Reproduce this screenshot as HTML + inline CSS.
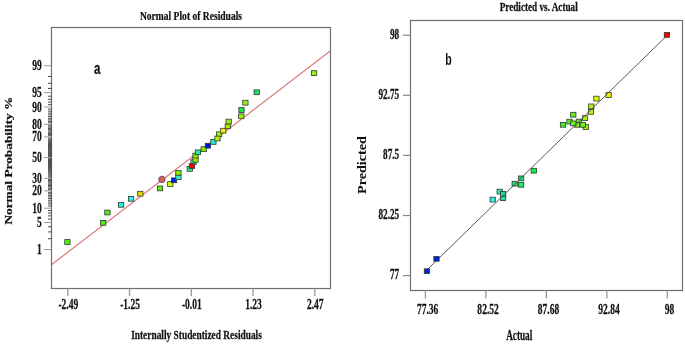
<!DOCTYPE html>
<html><head><meta charset="utf-8"><style>
html,body{margin:0;padding:0;background:#fff;}
svg{display:block;will-change:transform;filter:blur(0.3px);}
</style></head><body>
<svg width="685" height="353" viewBox="0 0 685 353">
<rect width="685" height="353" fill="#fff"/>
<line x1="51.5" y1="264.7" x2="330.5" y2="50.8" stroke="#dd7878" stroke-width="1.2"/>
<rect x="51.5" y="27.5" width="279.0" height="261.0" fill="none" stroke="#6e6e6e" stroke-width="1.2"/>
<line x1="48" y1="238.72" x2="51.5" y2="238.72" stroke="#2a2a2a" stroke-width="0.85"/>
<line x1="48" y1="231.89" x2="51.5" y2="231.89" stroke="#2a2a2a" stroke-width="0.85"/>
<line x1="48" y1="226.75" x2="51.5" y2="226.75" stroke="#2a2a2a" stroke-width="0.85"/>
<line x1="48" y1="219.01" x2="51.5" y2="219.01" stroke="#2a2a2a" stroke-width="0.85"/>
<line x1="48" y1="215.89" x2="51.5" y2="215.89" stroke="#2a2a2a" stroke-width="0.85"/>
<line x1="48" y1="213.10" x2="51.5" y2="213.10" stroke="#2a2a2a" stroke-width="0.85"/>
<line x1="48" y1="210.56" x2="51.5" y2="210.56" stroke="#2a2a2a" stroke-width="0.85"/>
<line x1="48" y1="206.05" x2="51.5" y2="206.05" stroke="#2a2a2a" stroke-width="0.85"/>
<line x1="48" y1="204.01" x2="51.5" y2="204.01" stroke="#2a2a2a" stroke-width="0.85"/>
<line x1="48" y1="202.09" x2="51.5" y2="202.09" stroke="#2a2a2a" stroke-width="0.85"/>
<line x1="48" y1="200.27" x2="51.5" y2="200.27" stroke="#2a2a2a" stroke-width="0.85"/>
<line x1="48" y1="198.54" x2="51.5" y2="198.54" stroke="#2a2a2a" stroke-width="0.85"/>
<line x1="48" y1="196.88" x2="51.5" y2="196.88" stroke="#2a2a2a" stroke-width="0.85"/>
<line x1="48" y1="195.29" x2="51.5" y2="195.29" stroke="#2a2a2a" stroke-width="0.85"/>
<line x1="48" y1="193.76" x2="51.5" y2="193.76" stroke="#2a2a2a" stroke-width="0.85"/>
<line x1="48" y1="192.28" x2="51.5" y2="192.28" stroke="#2a2a2a" stroke-width="0.85"/>
<line x1="48" y1="189.45" x2="51.5" y2="189.45" stroke="#2a2a2a" stroke-width="0.85"/>
<line x1="48" y1="188.10" x2="51.5" y2="188.10" stroke="#2a2a2a" stroke-width="0.85"/>
<line x1="48" y1="186.78" x2="51.5" y2="186.78" stroke="#2a2a2a" stroke-width="0.85"/>
<line x1="48" y1="185.50" x2="51.5" y2="185.50" stroke="#2a2a2a" stroke-width="0.85"/>
<line x1="48" y1="184.24" x2="51.5" y2="184.24" stroke="#2a2a2a" stroke-width="0.85"/>
<line x1="48" y1="183.01" x2="51.5" y2="183.01" stroke="#2a2a2a" stroke-width="0.85"/>
<line x1="48" y1="181.81" x2="51.5" y2="181.81" stroke="#2a2a2a" stroke-width="0.85"/>
<line x1="48" y1="180.62" x2="51.5" y2="180.62" stroke="#2a2a2a" stroke-width="0.85"/>
<line x1="48" y1="179.46" x2="51.5" y2="179.46" stroke="#2a2a2a" stroke-width="0.85"/>
<line x1="48" y1="177.19" x2="51.5" y2="177.19" stroke="#2a2a2a" stroke-width="0.85"/>
<line x1="48" y1="176.07" x2="51.5" y2="176.07" stroke="#2a2a2a" stroke-width="0.85"/>
<line x1="48" y1="174.98" x2="51.5" y2="174.98" stroke="#2a2a2a" stroke-width="0.85"/>
<line x1="48" y1="173.89" x2="51.5" y2="173.89" stroke="#2a2a2a" stroke-width="0.85"/>
<line x1="48" y1="172.82" x2="51.5" y2="172.82" stroke="#2a2a2a" stroke-width="0.85"/>
<line x1="48" y1="171.76" x2="51.5" y2="171.76" stroke="#2a2a2a" stroke-width="0.85"/>
<line x1="48" y1="170.71" x2="51.5" y2="170.71" stroke="#2a2a2a" stroke-width="0.85"/>
<line x1="48" y1="169.67" x2="51.5" y2="169.67" stroke="#2a2a2a" stroke-width="0.85"/>
<line x1="48" y1="168.63" x2="51.5" y2="168.63" stroke="#2a2a2a" stroke-width="0.85"/>
<line x1="48" y1="167.61" x2="51.5" y2="167.61" stroke="#2a2a2a" stroke-width="0.85"/>
<line x1="48" y1="166.59" x2="51.5" y2="166.59" stroke="#2a2a2a" stroke-width="0.85"/>
<line x1="48" y1="165.57" x2="51.5" y2="165.57" stroke="#2a2a2a" stroke-width="0.85"/>
<line x1="48" y1="164.57" x2="51.5" y2="164.57" stroke="#2a2a2a" stroke-width="0.85"/>
<line x1="48" y1="163.56" x2="51.5" y2="163.56" stroke="#2a2a2a" stroke-width="0.85"/>
<line x1="48" y1="162.56" x2="51.5" y2="162.56" stroke="#2a2a2a" stroke-width="0.85"/>
<line x1="48" y1="161.57" x2="51.5" y2="161.57" stroke="#2a2a2a" stroke-width="0.85"/>
<line x1="48" y1="160.57" x2="51.5" y2="160.57" stroke="#2a2a2a" stroke-width="0.85"/>
<line x1="48" y1="159.58" x2="51.5" y2="159.58" stroke="#2a2a2a" stroke-width="0.85"/>
<line x1="48" y1="158.59" x2="51.5" y2="158.59" stroke="#2a2a2a" stroke-width="0.85"/>
<line x1="48" y1="156.61" x2="51.5" y2="156.61" stroke="#2a2a2a" stroke-width="0.85"/>
<line x1="48" y1="155.62" x2="51.5" y2="155.62" stroke="#2a2a2a" stroke-width="0.85"/>
<line x1="48" y1="154.63" x2="51.5" y2="154.63" stroke="#2a2a2a" stroke-width="0.85"/>
<line x1="48" y1="153.63" x2="51.5" y2="153.63" stroke="#2a2a2a" stroke-width="0.85"/>
<line x1="48" y1="152.64" x2="51.5" y2="152.64" stroke="#2a2a2a" stroke-width="0.85"/>
<line x1="48" y1="151.64" x2="51.5" y2="151.64" stroke="#2a2a2a" stroke-width="0.85"/>
<line x1="48" y1="150.63" x2="51.5" y2="150.63" stroke="#2a2a2a" stroke-width="0.85"/>
<line x1="48" y1="149.63" x2="51.5" y2="149.63" stroke="#2a2a2a" stroke-width="0.85"/>
<line x1="48" y1="148.61" x2="51.5" y2="148.61" stroke="#2a2a2a" stroke-width="0.85"/>
<line x1="48" y1="147.59" x2="51.5" y2="147.59" stroke="#2a2a2a" stroke-width="0.85"/>
<line x1="48" y1="146.57" x2="51.5" y2="146.57" stroke="#2a2a2a" stroke-width="0.85"/>
<line x1="48" y1="145.53" x2="51.5" y2="145.53" stroke="#2a2a2a" stroke-width="0.85"/>
<line x1="48" y1="144.49" x2="51.5" y2="144.49" stroke="#2a2a2a" stroke-width="0.85"/>
<line x1="48" y1="143.44" x2="51.5" y2="143.44" stroke="#2a2a2a" stroke-width="0.85"/>
<line x1="48" y1="142.38" x2="51.5" y2="142.38" stroke="#2a2a2a" stroke-width="0.85"/>
<line x1="48" y1="141.31" x2="51.5" y2="141.31" stroke="#2a2a2a" stroke-width="0.85"/>
<line x1="48" y1="140.22" x2="51.5" y2="140.22" stroke="#2a2a2a" stroke-width="0.85"/>
<line x1="48" y1="139.13" x2="51.5" y2="139.13" stroke="#2a2a2a" stroke-width="0.85"/>
<line x1="48" y1="138.01" x2="51.5" y2="138.01" stroke="#2a2a2a" stroke-width="0.85"/>
<line x1="48" y1="135.74" x2="51.5" y2="135.74" stroke="#2a2a2a" stroke-width="0.85"/>
<line x1="48" y1="134.58" x2="51.5" y2="134.58" stroke="#2a2a2a" stroke-width="0.85"/>
<line x1="48" y1="133.39" x2="51.5" y2="133.39" stroke="#2a2a2a" stroke-width="0.85"/>
<line x1="48" y1="132.19" x2="51.5" y2="132.19" stroke="#2a2a2a" stroke-width="0.85"/>
<line x1="48" y1="130.96" x2="51.5" y2="130.96" stroke="#2a2a2a" stroke-width="0.85"/>
<line x1="48" y1="129.70" x2="51.5" y2="129.70" stroke="#2a2a2a" stroke-width="0.85"/>
<line x1="48" y1="128.42" x2="51.5" y2="128.42" stroke="#2a2a2a" stroke-width="0.85"/>
<line x1="48" y1="127.10" x2="51.5" y2="127.10" stroke="#2a2a2a" stroke-width="0.85"/>
<line x1="48" y1="125.75" x2="51.5" y2="125.75" stroke="#2a2a2a" stroke-width="0.85"/>
<line x1="48" y1="122.92" x2="51.5" y2="122.92" stroke="#2a2a2a" stroke-width="0.85"/>
<line x1="48" y1="121.44" x2="51.5" y2="121.44" stroke="#2a2a2a" stroke-width="0.85"/>
<line x1="48" y1="119.91" x2="51.5" y2="119.91" stroke="#2a2a2a" stroke-width="0.85"/>
<line x1="48" y1="118.32" x2="51.5" y2="118.32" stroke="#2a2a2a" stroke-width="0.85"/>
<line x1="48" y1="116.66" x2="51.5" y2="116.66" stroke="#2a2a2a" stroke-width="0.85"/>
<line x1="48" y1="114.93" x2="51.5" y2="114.93" stroke="#2a2a2a" stroke-width="0.85"/>
<line x1="48" y1="113.11" x2="51.5" y2="113.11" stroke="#2a2a2a" stroke-width="0.85"/>
<line x1="48" y1="111.19" x2="51.5" y2="111.19" stroke="#2a2a2a" stroke-width="0.85"/>
<line x1="48" y1="109.15" x2="51.5" y2="109.15" stroke="#2a2a2a" stroke-width="0.85"/>
<line x1="48" y1="104.64" x2="51.5" y2="104.64" stroke="#2a2a2a" stroke-width="0.85"/>
<line x1="48" y1="102.10" x2="51.5" y2="102.10" stroke="#2a2a2a" stroke-width="0.85"/>
<line x1="48" y1="99.31" x2="51.5" y2="99.31" stroke="#2a2a2a" stroke-width="0.85"/>
<line x1="48" y1="96.19" x2="51.5" y2="96.19" stroke="#2a2a2a" stroke-width="0.85"/>
<line x1="48" y1="88.45" x2="51.5" y2="88.45" stroke="#2a2a2a" stroke-width="0.85"/>
<line x1="48" y1="83.31" x2="51.5" y2="83.31" stroke="#2a2a2a" stroke-width="0.85"/>
<line x1="48" y1="76.48" x2="51.5" y2="76.48" stroke="#2a2a2a" stroke-width="0.85"/>
<line x1="44" y1="249.49" x2="51.5" y2="249.49" stroke="#999" stroke-width="1"/>
<text transform="translate(41.80,254.09) scale(0.68,1)" text-anchor="end" font-family="Liberation Serif" font-weight="700" font-size="14" fill="#111" stroke="#111" stroke-width="0.25">1</text>
<line x1="44" y1="222.57" x2="51.5" y2="222.57" stroke="#999" stroke-width="1"/>
<text transform="translate(41.80,227.17) scale(0.68,1)" text-anchor="end" font-family="Liberation Serif" font-weight="700" font-size="14" fill="#111" stroke="#111" stroke-width="0.25">5</text>
<line x1="44" y1="208.22" x2="51.5" y2="208.22" stroke="#999" stroke-width="1"/>
<text transform="translate(41.80,212.82) scale(0.68,1)" text-anchor="end" font-family="Liberation Serif" font-weight="700" font-size="14" fill="#111" stroke="#111" stroke-width="0.25">10</text>
<line x1="44" y1="190.84" x2="51.5" y2="190.84" stroke="#999" stroke-width="1"/>
<text transform="translate(41.80,195.44) scale(0.68,1)" text-anchor="end" font-family="Liberation Serif" font-weight="700" font-size="14" fill="#111" stroke="#111" stroke-width="0.25">20</text>
<line x1="44" y1="178.31" x2="51.5" y2="178.31" stroke="#999" stroke-width="1"/>
<text transform="translate(41.80,182.91) scale(0.68,1)" text-anchor="end" font-family="Liberation Serif" font-weight="700" font-size="14" fill="#111" stroke="#111" stroke-width="0.25">30</text>
<line x1="44" y1="157.60" x2="51.5" y2="157.60" stroke="#999" stroke-width="1"/>
<text transform="translate(41.80,162.20) scale(0.68,1)" text-anchor="end" font-family="Liberation Serif" font-weight="700" font-size="14" fill="#111" stroke="#111" stroke-width="0.25">50</text>
<line x1="44" y1="136.89" x2="51.5" y2="136.89" stroke="#999" stroke-width="1"/>
<text transform="translate(41.80,141.49) scale(0.68,1)" text-anchor="end" font-family="Liberation Serif" font-weight="700" font-size="14" fill="#111" stroke="#111" stroke-width="0.25">70</text>
<line x1="44" y1="124.36" x2="51.5" y2="124.36" stroke="#999" stroke-width="1"/>
<text transform="translate(41.80,128.96) scale(0.68,1)" text-anchor="end" font-family="Liberation Serif" font-weight="700" font-size="14" fill="#111" stroke="#111" stroke-width="0.25">80</text>
<line x1="44" y1="106.98" x2="51.5" y2="106.98" stroke="#999" stroke-width="1"/>
<text transform="translate(41.80,111.58) scale(0.68,1)" text-anchor="end" font-family="Liberation Serif" font-weight="700" font-size="14" fill="#111" stroke="#111" stroke-width="0.25">90</text>
<line x1="44" y1="92.63" x2="51.5" y2="92.63" stroke="#999" stroke-width="1"/>
<text transform="translate(41.80,97.23) scale(0.68,1)" text-anchor="end" font-family="Liberation Serif" font-weight="700" font-size="14" fill="#111" stroke="#111" stroke-width="0.25">95</text>
<line x1="44" y1="65.71" x2="51.5" y2="65.71" stroke="#999" stroke-width="1"/>
<text transform="translate(41.80,70.31) scale(0.68,1)" text-anchor="end" font-family="Liberation Serif" font-weight="700" font-size="14" fill="#111" stroke="#111" stroke-width="0.25">99</text>
<line x1="67.80" y1="288.5" x2="67.80" y2="296" stroke="#9a9a9a" stroke-width="1.3"/>
<text transform="translate(68.30,308.60) scale(0.68,1)" text-anchor="middle" font-family="Liberation Serif" font-weight="700" font-size="14" fill="#111" stroke="#111" stroke-width="0.25">-2.49</text>
<line x1="129.55" y1="288.5" x2="129.55" y2="296" stroke="#9a9a9a" stroke-width="1.3"/>
<text transform="translate(130.05,308.60) scale(0.68,1)" text-anchor="middle" font-family="Liberation Serif" font-weight="700" font-size="14" fill="#111" stroke="#111" stroke-width="0.25">-1.25</text>
<line x1="191.30" y1="288.5" x2="191.30" y2="296" stroke="#9a9a9a" stroke-width="1.3"/>
<text transform="translate(191.80,308.60) scale(0.68,1)" text-anchor="middle" font-family="Liberation Serif" font-weight="700" font-size="14" fill="#111" stroke="#111" stroke-width="0.25">-0.01</text>
<line x1="253.05" y1="288.5" x2="253.05" y2="296" stroke="#9a9a9a" stroke-width="1.3"/>
<text transform="translate(253.55,308.60) scale(0.68,1)" text-anchor="middle" font-family="Liberation Serif" font-weight="700" font-size="14" fill="#111" stroke="#111" stroke-width="0.25">1.23</text>
<line x1="314.80" y1="288.5" x2="314.80" y2="296" stroke="#9a9a9a" stroke-width="1.3"/>
<text transform="translate(315.30,308.60) scale(0.68,1)" text-anchor="middle" font-family="Liberation Serif" font-weight="700" font-size="14" fill="#111" stroke="#111" stroke-width="0.25">2.47</text>
<text transform="translate(191.00,19.80) scale(0.765,1)" text-anchor="middle" font-family="Liberation Serif" font-weight="700" font-size="12.5" fill="#111" stroke="#111" stroke-width="0.25">Normal Plot of Residuals</text>
<text transform="translate(196.50,339.20) scale(0.717,1)" text-anchor="middle" font-family="Liberation Serif" font-weight="700" font-size="13.1" fill="#111" stroke="#111" stroke-width="0.25">Internally Studentized Residuals</text>
<text transform="translate(12.4,160.7) scale(0.82,1) rotate(-90)" text-anchor="middle" font-family="Liberation Serif" font-weight="700" font-size="13.35" fill="#111" stroke="#111" stroke-width="0.25">Normal Probability %</text>
<text transform="translate(97.20,74.10) scale(0.68,1)" text-anchor="middle" font-family="Liberation Sans" font-weight="700" font-size="17" fill="#111" stroke="#111" stroke-width="0.25">a</text>
<rect x="64.75" y="239.60" width="5.3" height="4.8" fill="#55f000" stroke="#2d3b2d" stroke-width="0.8"/>
<rect x="100.55" y="220.40" width="5.3" height="4.8" fill="#44ee11" stroke="#2d3b2d" stroke-width="0.8"/>
<rect x="104.75" y="210.10" width="5.3" height="4.8" fill="#5fe822" stroke="#2d3b2d" stroke-width="0.8"/>
<rect x="118.45" y="202.40" width="5.3" height="4.8" fill="#22eedd" stroke="#2d3b2d" stroke-width="0.8"/>
<rect x="128.45" y="196.40" width="5.3" height="4.8" fill="#33eeee" stroke="#2d3b2d" stroke-width="0.8"/>
<rect x="137.65" y="191.30" width="5.3" height="4.8" fill="#dddd00" stroke="#2d3b2d" stroke-width="0.8"/>
<rect x="157.35" y="186.00" width="5.3" height="4.8" fill="#66ee00" stroke="#2d3b2d" stroke-width="0.8"/>
<rect x="167.65" y="181.60" width="5.3" height="4.8" fill="#ccff00" stroke="#2d3b2d" stroke-width="0.8"/>
<rect x="171.35" y="177.90" width="5.3" height="4.8" fill="#0022ee" stroke="#2d3b2d" stroke-width="0.8"/>
<rect x="175.75" y="174.80" width="5.3" height="4.8" fill="#33eecc" stroke="#2d3b2d" stroke-width="0.8"/>
<rect x="175.75" y="170.40" width="5.3" height="4.8" fill="#88ee00" stroke="#2d3b2d" stroke-width="0.8"/>
<rect x="187.10" y="166.50" width="5.3" height="4.8" fill="#22ee99" stroke="#2d3b2d" stroke-width="0.8"/>
<rect x="190.95" y="159.70" width="5.3" height="4.8" fill="#22ee99" stroke="#2d3b2d" stroke-width="0.8"/>
<rect x="189.25" y="163.60" width="5.3" height="4.8" fill="#ee0000" stroke="#2d3b2d" stroke-width="0.8"/>
<rect x="192.85" y="157.30" width="5.3" height="4.8" fill="#99ee00" stroke="#2d3b2d" stroke-width="0.8"/>
<rect x="192.85" y="153.20" width="5.3" height="4.8" fill="#88ee00" stroke="#2d3b2d" stroke-width="0.8"/>
<rect x="195.25" y="149.90" width="5.3" height="4.8" fill="#22ee99" stroke="#2d3b2d" stroke-width="0.8"/>
<rect x="201.05" y="146.70" width="5.3" height="4.8" fill="#88ee00" stroke="#2d3b2d" stroke-width="0.8"/>
<rect x="205.25" y="143.30" width="5.3" height="4.8" fill="#0011ee" stroke="#2d3b2d" stroke-width="0.8"/>
<rect x="210.75" y="139.50" width="5.3" height="4.8" fill="#22eecc" stroke="#2d3b2d" stroke-width="0.8"/>
<rect x="216.45" y="131.90" width="5.3" height="4.8" fill="#aaee11" stroke="#2d3b2d" stroke-width="0.8"/>
<rect x="214.85" y="136.10" width="5.3" height="4.8" fill="#bbee00" stroke="#2d3b2d" stroke-width="0.8"/>
<rect x="220.65" y="128.30" width="5.3" height="4.8" fill="#eeee00" stroke="#2d3b2d" stroke-width="0.8"/>
<rect x="225.15" y="123.90" width="5.3" height="4.8" fill="#aaee00" stroke="#2d3b2d" stroke-width="0.8"/>
<rect x="226.05" y="119.20" width="5.3" height="4.8" fill="#99ee11" stroke="#2d3b2d" stroke-width="0.8"/>
<rect x="238.65" y="113.90" width="5.3" height="4.8" fill="#99ee11" stroke="#2d3b2d" stroke-width="0.8"/>
<rect x="238.85" y="107.60" width="5.3" height="4.8" fill="#22dd55" stroke="#2d3b2d" stroke-width="0.8"/>
<rect x="242.75" y="100.30" width="5.3" height="4.8" fill="#99ee11" stroke="#2d3b2d" stroke-width="0.8"/>
<rect x="254.05" y="89.90" width="5.3" height="4.8" fill="#22dd66" stroke="#2d3b2d" stroke-width="0.8"/>
<rect x="311.45" y="70.70" width="5.3" height="4.8" fill="#99f011" stroke="#2d3b2d" stroke-width="0.8"/>
<circle cx="161.9" cy="179.4" r="3.2" fill="#cc6464" stroke="#7a4545" stroke-width="0.9"/>
<rect x="410.5" y="20.5" width="272.0" height="270.0" fill="none" stroke="#6e6e6e" stroke-width="1.2"/>
<line x1="403" y1="35.20" x2="410.5" y2="35.20" stroke="#888" stroke-width="1.2"/>
<text transform="translate(399.20,38.70) scale(0.66,1)" text-anchor="end" font-family="Liberation Serif" font-weight="700" font-size="14" fill="#111" stroke="#111" stroke-width="0.25">98</text>
<line x1="403" y1="95.30" x2="410.5" y2="95.30" stroke="#888" stroke-width="1.2"/>
<text transform="translate(399.20,98.80) scale(0.66,1)" text-anchor="end" font-family="Liberation Serif" font-weight="700" font-size="14" fill="#111" stroke="#111" stroke-width="0.25">92.75</text>
<line x1="403" y1="155.40" x2="410.5" y2="155.40" stroke="#888" stroke-width="1.2"/>
<text transform="translate(399.20,158.90) scale(0.66,1)" text-anchor="end" font-family="Liberation Serif" font-weight="700" font-size="14" fill="#111" stroke="#111" stroke-width="0.25">87.5</text>
<line x1="403" y1="215.51" x2="410.5" y2="215.51" stroke="#888" stroke-width="1.2"/>
<text transform="translate(399.20,219.01) scale(0.66,1)" text-anchor="end" font-family="Liberation Serif" font-weight="700" font-size="14" fill="#111" stroke="#111" stroke-width="0.25">82.25</text>
<line x1="403" y1="275.61" x2="410.5" y2="275.61" stroke="#888" stroke-width="1.2"/>
<text transform="translate(399.20,279.11) scale(0.66,1)" text-anchor="end" font-family="Liberation Serif" font-weight="700" font-size="14" fill="#111" stroke="#111" stroke-width="0.25">77</text>
<line x1="425.40" y1="290.5" x2="425.40" y2="298.5" stroke="#9a9a9a" stroke-width="1.3"/>
<text transform="translate(427.60,313.90) scale(0.68,1)" text-anchor="middle" font-family="Liberation Serif" font-weight="700" font-size="14" fill="#111" stroke="#111" stroke-width="0.25">77.36</text>
<line x1="485.88" y1="290.5" x2="485.88" y2="298.5" stroke="#9a9a9a" stroke-width="1.3"/>
<text transform="translate(488.08,313.90) scale(0.68,1)" text-anchor="middle" font-family="Liberation Serif" font-weight="700" font-size="14" fill="#111" stroke="#111" stroke-width="0.25">82.52</text>
<line x1="546.35" y1="290.5" x2="546.35" y2="298.5" stroke="#9a9a9a" stroke-width="1.3"/>
<text transform="translate(548.55,313.90) scale(0.68,1)" text-anchor="middle" font-family="Liberation Serif" font-weight="700" font-size="14" fill="#111" stroke="#111" stroke-width="0.25">87.68</text>
<line x1="606.83" y1="290.5" x2="606.83" y2="298.5" stroke="#9a9a9a" stroke-width="1.3"/>
<text transform="translate(609.03,313.90) scale(0.68,1)" text-anchor="middle" font-family="Liberation Serif" font-weight="700" font-size="14" fill="#111" stroke="#111" stroke-width="0.25">92.84</text>
<line x1="667.30" y1="290.5" x2="667.30" y2="298.5" stroke="#9a9a9a" stroke-width="1.3"/>
<text transform="translate(669.50,313.90) scale(0.68,1)" text-anchor="middle" font-family="Liberation Serif" font-weight="700" font-size="14" fill="#111" stroke="#111" stroke-width="0.25">98</text>
<text transform="translate(538.70,10.50) scale(0.766,1)" text-anchor="middle" font-family="Liberation Serif" font-weight="700" font-size="12" fill="#111" stroke="#111" stroke-width="0.25">Predicted vs. Actual</text>
<text transform="translate(519.20,340.00) scale(0.68,1)" text-anchor="middle" font-family="Liberation Serif" font-weight="700" font-size="13.6" fill="#111" stroke="#111" stroke-width="0.25">Actual</text>
<text transform="translate(365.6,165.0) scale(0.81,1) rotate(-90)" text-anchor="middle" font-family="Liberation Serif" font-weight="700" font-size="14.2" fill="#111" stroke="#111" stroke-width="0.1">Predicted</text>
<text transform="translate(448.40,65.40) scale(0.64,1)" text-anchor="middle" font-family="Liberation Sans" font-weight="700" font-size="16.5" fill="#111" >b</text>
<rect x="490.05" y="197.20" width="5.3" height="4.8" fill="#33eedd" stroke="#2d3b2d" stroke-width="0.8"/>
<rect x="497.05" y="189.20" width="5.3" height="4.8" fill="#22eebb" stroke="#2d3b2d" stroke-width="0.8"/>
<rect x="500.45" y="195.70" width="5.3" height="4.8" fill="#22dd99" stroke="#2d3b2d" stroke-width="0.8"/>
<rect x="500.45" y="191.50" width="5.3" height="4.8" fill="#22dd99" stroke="#2d3b2d" stroke-width="0.8"/>
<rect x="512.05" y="181.30" width="5.3" height="4.8" fill="#22dd77" stroke="#2d3b2d" stroke-width="0.8"/>
<rect x="518.45" y="182.40" width="5.3" height="4.8" fill="#22ee66" stroke="#2d3b2d" stroke-width="0.8"/>
<rect x="518.45" y="176.00" width="5.3" height="4.8" fill="#22dd77" stroke="#2d3b2d" stroke-width="0.8"/>
<rect x="531.15" y="168.30" width="5.3" height="4.8" fill="#11ee44" stroke="#2d3b2d" stroke-width="0.8"/>
<rect x="560.35" y="122.40" width="5.3" height="4.8" fill="#44ee22" stroke="#2d3b2d" stroke-width="0.8"/>
<rect x="570.65" y="112.30" width="5.3" height="4.8" fill="#66ee22" stroke="#2d3b2d" stroke-width="0.8"/>
<rect x="566.85" y="119.20" width="5.3" height="4.8" fill="#55ee22" stroke="#2d3b2d" stroke-width="0.8"/>
<rect x="576.25" y="119.20" width="5.3" height="4.8" fill="#77ee22" stroke="#2d3b2d" stroke-width="0.8"/>
<rect x="574.35" y="122.40" width="5.3" height="4.8" fill="#88ee22" stroke="#2d3b2d" stroke-width="0.8"/>
<rect x="570.65" y="121.00" width="5.3" height="4.8" fill="#66ee22" stroke="#2d3b2d" stroke-width="0.8"/>
<rect x="583.15" y="124.60" width="5.3" height="4.8" fill="#99ee11" stroke="#2d3b2d" stroke-width="0.8"/>
<rect x="580.15" y="122.40" width="5.3" height="4.8" fill="#77ee22" stroke="#2d3b2d" stroke-width="0.8"/>
<rect x="582.35" y="115.70" width="5.3" height="4.8" fill="#aaee11" stroke="#2d3b2d" stroke-width="0.8"/>
<rect x="588.65" y="104.00" width="5.3" height="4.8" fill="#bbee11" stroke="#2d3b2d" stroke-width="0.8"/>
<rect x="588.25" y="109.50" width="5.3" height="4.8" fill="#bbee11" stroke="#2d3b2d" stroke-width="0.8"/>
<rect x="593.75" y="96.20" width="5.3" height="4.8" fill="#ddff00" stroke="#2d3b2d" stroke-width="0.8"/>
<rect x="605.95" y="92.60" width="5.3" height="4.8" fill="#eeee00" stroke="#2d3b2d" stroke-width="0.8"/>
<line x1="425.40" y1="271.49" x2="667.30" y2="35.20" stroke="#505050" stroke-width="0.95"/>
<rect x="424.25" y="268.80" width="5.3" height="4.8" fill="#0022dd" stroke="#2d3b2d" stroke-width="0.8"/>
<rect x="433.85" y="256.40" width="5.3" height="4.8" fill="#0022dd" stroke="#2d3b2d" stroke-width="0.8"/>
<rect x="664.25" y="32.50" width="5.3" height="4.8" fill="#ee0000" stroke="#2d3b2d" stroke-width="0.8"/>
</svg>
</body></html>
